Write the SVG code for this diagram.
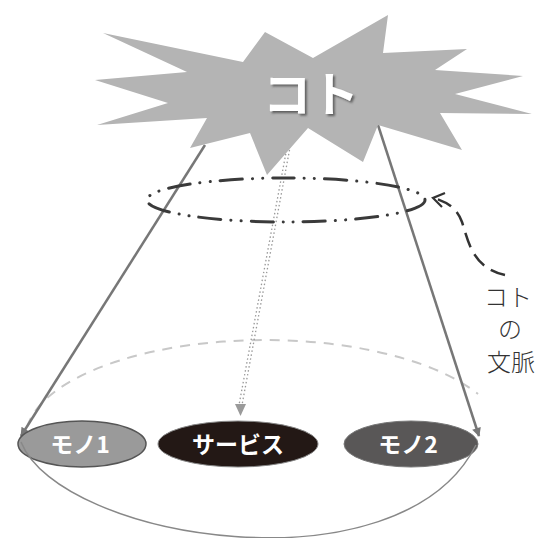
<svg xmlns="http://www.w3.org/2000/svg" width="547" height="538" viewBox="0 0 547 538">
<style>
.solid{stroke:#777;stroke-width:2.5;fill:none}
.dotted{stroke:#999;stroke-width:1.3;fill:none;stroke-dasharray:1.5 2.5}
.faint{stroke:#c8c8c8;stroke-width:2;fill:none;stroke-dasharray:10 8}
.ctx{stroke:#3a3a3a;stroke-width:3;fill:none;stroke-dasharray:22 10 0.1 10 0.1 10;stroke-linecap:round}
.lbl{font-family:"Noto Sans CJK JP","Noto Sans",sans-serif;font-weight:bold;fill:#fff;text-anchor:middle}
.side{font-family:"Noto Sans CJK JP","Noto Sans",sans-serif;font-weight:300;fill:#333;font-size:24px;text-anchor:middle}
</style>
<defs>
<marker id="ah" viewBox="0 0 10 10" refX="9" refY="5" markerWidth="12" markerHeight="9" markerUnits="userSpaceOnUse" orient="auto">
<path d="M0,0 L10,5 L0,10 z" fill="#777"/>
</marker>
<filter id="sh" x="-10%" y="-10%" width="130%" height="130%">
<feDropShadow dx="2" dy="2" stdDeviation="0.8" flood-color="#555" flood-opacity="0.9"/>
</filter>
</defs>
<g id="connectors">
<path class="faint" d="M27,427 A240,100 0 0 1 478,394"/>
<line class="solid" x1="205" y1="145" x2="21" y2="436" marker-end="url(#ah)"/>
<line class="solid" x1="378" y1="125" x2="479" y2="436" marker-end="url(#ah)"/>
<line class="dotted" x1="288" y1="142" x2="239" y2="405"/>
<line class="dotted" x1="291" y1="142" x2="242" y2="405"/>
<path d="M235,404 L246,404 L240.5,416 z" fill="#9a9a9a"/>
</g>
<g id="koto">
<polygon fill="#b4b4b4" points="103,33 243,62 265,32 313,58 388,15 383,53 467,49 435,70 523,76 455,94 532,114 440,113 462,150 378,125 363,162 308,128 267,175 250,133 190,148 207,118 97,125 168,103 95,80 187,72"/>
<text class="lbl" x="311" y="112" font-size="48" filter="url(#sh)">コト</text>
</g>
<g id="context">
<ellipse class="ctx" cx="286" cy="200" rx="139" ry="22"/>
</g>
<g id="context-label">
<path d="M505,275 C472,268 468,240 462,222 C457,208 447,202 434,198" fill="none" stroke="#333" stroke-width="2.5" stroke-dasharray="15 8"/>
<path d="M445,193 L433,198 L442,207" fill="none" stroke="#333" stroke-width="2.2"/>
<text class="side" x="508" y="306">コト</text>
<text class="side" x="510" y="338">の</text>
<text class="side" x="511" y="371">文脈</text>
</g>
<g id="mono1">
<ellipse cx="82" cy="444" rx="64" ry="23" fill="#9a9a9a" stroke="#555" stroke-width="1.5"/>
<text class="lbl" x="80" y="453" font-size="23">モノ1</text>
</g>
<g id="service">
<ellipse cx="238" cy="444" rx="80" ry="23" fill="#231815" stroke="#888" stroke-width="1"/>
<text class="lbl" x="238" y="453" font-size="23">サービス</text>
</g>
<g id="mono2">
<ellipse cx="411" cy="444" rx="67" ry="23" fill="#595757" stroke="#777" stroke-width="1"/>
<text class="lbl" x="408" y="453" font-size="23">モノ2</text>
</g>
<g id="link">
<path d="M21,442 C60,540 400,595 476,445" fill="none" stroke="#888" stroke-width="1.5"/>
</g>
</svg>
